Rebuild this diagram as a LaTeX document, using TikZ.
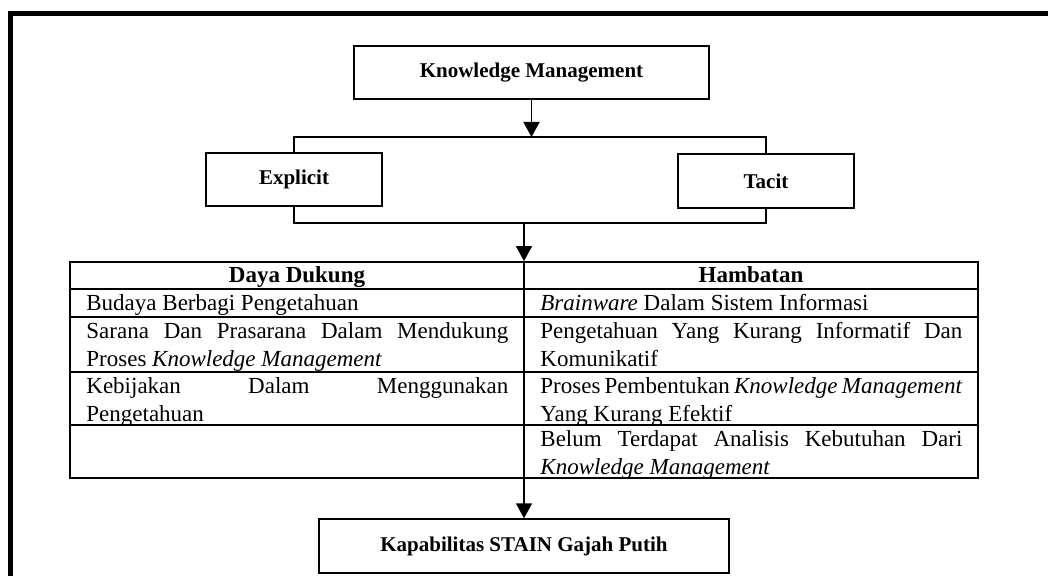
\documentclass[tikz,border=0pt]{standalone}
\usepackage{fontspec}
\setmainfont{Liberation Serif}
\usepackage{tikz}
\usetikzlibrary{arrows.meta}

\begin{document}
\begin{tikzpicture}[x=0.5pt,y=-0.5pt,>={Triangle[length=7.5pt,width=8pt]},
  box/.style={draw,line width=0.7pt,inner sep=0pt,font=\fontsize{10.5}{13}\selectfont\bfseries},
  conn/.style={line width=0.75pt},
  rule/.style={line width=0.9pt},
  head/.style={anchor=base,font=\fontsize{11.5}{14}\selectfont\bfseries},
  cell/.style={anchor=north west,inner xsep=8pt,inner ysep=0pt,text width=211pt,
    align=justify,font=\fontsize{11.5}{14}\selectfont}]
\useasboundingbox (0,0) rectangle (1048,576);
\draw[line width=2.5pt] (10,576) -- (10,13.5) -- (1048,13.5);

\node[box,minimum width=177.5pt,minimum height=26.5pt] (km) at (531.5,72.5) {Knowledge Management};
\node[box,minimum width=88pt,minimum height=26.5pt] (explicit) at (294,179.5) {Explicit};
\node[box,minimum width=88pt,minimum height=27pt] (tacit) at (766,181) {Tacit};
\node[draw,rule,inner sep=0pt,minimum width=454pt,minimum height=108pt] (tbl) at (524,370) {};
\node[box,minimum width=205pt,minimum height=27pt] (kap) at (524,546) {Kapabilitas STAIN Gajah Putih};

\coordinate (split) at (531.5,137);
\coordinate (merge) at (524,223);

\draw[conn,->] (km) -- (split);
\draw[conn] (explicit.north) |- (split) -| (tacit.north);
\draw[conn] (explicit.south) |- (merge) -| (tacit.south);
\draw[conn,->] (merge) -- (tbl.north);
\draw[conn,->] (tbl.south) -- (kap);

\foreach \y in {289,317,372,425}
  \draw[rule] (70,\y) -- (978,\y);
\draw[rule] (tbl.north) -- (tbl.south);

\node[head] (dukung) at (297,283) {Daya Dukung};
\node[head] (hambat) at (751,283) {Hambatan};

\node[cell] (d1) at (70,290.5) {\strut Budaya Berbagi Pengetahuan};
\node[cell] (d2) at (70,318.5) {\strut Sarana Dan Prasarana Dalam Mendukung\linebreak Proses \textit{Knowledge Management}};
\node[cell] (d3) at (70,373.5) {\strut Kebijakan Dalam Menggunakan\linebreak Pengetahuan};
\node[cell] (h1) at (524,290.5) {\strut\textit{Brainware} Dalam Sistem Informasi};
\node[cell] (h2) at (524,318.5) {\strut Pengetahuan Yang Kurang Informatif Dan\linebreak Komunikatif};
\node[cell] (h3) at (524,373.5) {\strut Proses Pembentukan \textit{Knowledge Management}\linebreak Yang Kurang Efektif};
\node[cell] (h4) at (524,426.5) {\strut Belum Terdapat Analisis Kebutuhan Dari\linebreak \textit{Knowledge Management}};
\end{tikzpicture}
\end{document}
